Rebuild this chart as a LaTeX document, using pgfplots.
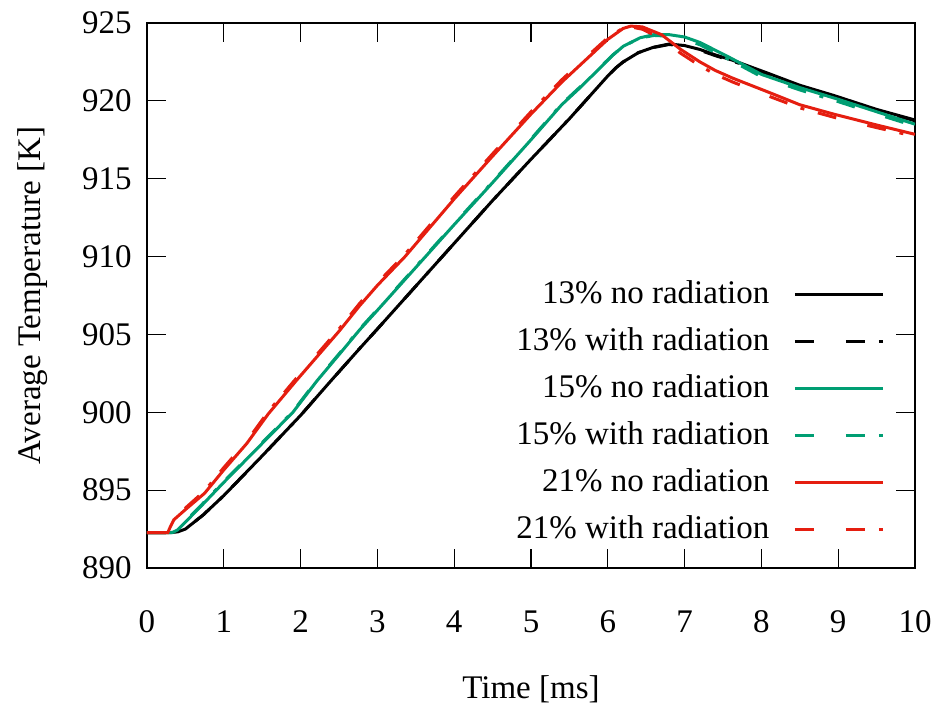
\documentclass[border=0pt]{standalone}
\usepackage{pgfplots}
\pgfplotsset{compat=1.18}
\usepackage{fontspec}
\setmainfont{Liberation Serif}
\definecolor{gpgreen}{HTML}{009E73}
\definecolor{gpred}{HTML}{E51E10}
\tikzset{gpdash/.style={dash pattern=on 9.5pt off 16pt on 9.5pt off 7pt on 2pt off 7pt}}
\begin{document}
\fontsize{16.5}{19}\selectfont
\begin{tikzpicture}
\useasboundingbox (-73.5pt,-68pt) rectangle (394.5pt,284pt);
\begin{axis}[
  at={(0pt,0pt)}, anchor=south west,
  scale only axis, width=384pt, height=272.5pt,
  xmin=0, xmax=10, ymin=890, ymax=925,
  xtick={0,1,...,10}, ytick={890,895,...,925},
  tick align=inside, major tick length=9.5pt,
  tick style={line width=0.6pt, black},
  axis line style={line width=1pt},
  /pgf/number format/assume math mode=true,
  xticklabel style={yshift=-15.5pt},
  yticklabel style={xshift=-2pt},
  xlabel={Time [ms]}, ylabel={Average Temperature [K]},
  xlabel style={yshift=-10.5pt},
  ylabel style={yshift=6pt},
  every axis plot/.append style={line width=1.5pt},
  legend plot pos=right,
  legend cell align=right,
  legend image code/.code={\path (0pt,0pt); \draw[#1] (10pt,0pt) -- (54pt,0pt);},
  legend style={draw=none, fill=none, at={(0.9684,0.029)}, anchor=south east,
    row sep=5.6pt, font=\fontsize{16.5}{19}\selectfont},
]
\addplot[black] coordinates {
(0,892.27)(0.3,892.27)(0.4,892.32)(0.5,892.5)(0.73,893.4)(1.0,894.65)(1.5,897.2)(2.0,899.8)
(2.4,902.05)(2.77,904.1)(3.0,905.35)(3.5,908.1)(4.0,910.85)(4.5,913.6)(5.0,916.25)(5.5,918.85)
(5.8,920.5)(6.0,921.6)(6.1,922.1)(6.2,922.5)(6.4,923.1)(6.6,923.45)(6.8,923.65)(7.0,923.55)
(7.2,923.3)(7.4,922.95)(7.63,922.6)(8.07,921.8)(8.5,921.0)(8.94,920.35)(9.5,919.45)(10.0,918.77)};
\addlegendentry{13\% no radiation}
\addplot[black, gpdash] coordinates {
(0,892.27)(0.3,892.27)(0.4,892.32)(0.5,892.5)(0.73,893.4)(1.0,894.65)(1.5,897.2)(2.0,899.8)
(2.4,902.05)(2.77,904.1)(3.0,905.35)(3.5,908.1)(4.0,910.85)(4.5,913.6)(5.0,916.25)(5.5,918.85)
(5.8,920.5)(6.0,921.6)(6.1,922.1)(6.2,922.5)(6.4,923.1)(6.6,923.43)(6.8,923.62)(7.0,923.5)
(7.2,923.25)(7.4,922.9)(7.63,922.55)(8.07,921.75)(8.5,920.95)(8.94,920.3)(9.5,919.4)(10.0,918.72)};
\addlegendentry{13\% with radiation}
\addplot[gpgreen] coordinates {
(0,892.27)(0.33,892.27)(0.4,892.45)(0.5,892.95)(0.7,893.95)(1.0,895.5)(1.5,898.0)(1.9,900.0)
(2.21,902.0)(2.5,903.7)(2.77,905.3)(3.0,906.55)(3.5,909.3)(4.0,912.05)(4.5,914.75)(5.0,917.5)
(5.4,919.75)(5.64,920.85)(6.07,922.95)(6.2,923.5)(6.42,924.05)(6.6,924.25)(6.8,924.25)(7.0,924.1)
(7.2,923.75)(7.4,923.25)(7.6,922.75)(8.0,921.7)(8.5,920.85)(9.0,920.1)(9.5,919.3)(10.0,918.5)};
\addlegendentry{15\% no radiation}
\addplot[gpgreen, gpdash] coordinates {
(0,892.27)(0.33,892.27)(0.4,892.47)(0.5,893.0)(0.7,894.0)(1.0,895.55)(1.5,898.05)(1.9,900.05)
(2.21,902.05)(2.5,903.75)(2.77,905.35)(3.0,906.6)(3.5,909.35)(4.0,912.1)(4.5,914.8)(5.0,917.55)
(5.4,919.8)(5.64,920.9)(6.07,922.97)(6.2,923.5)(6.42,924.03)(6.6,924.2)(6.8,924.15)(7.0,923.95)
(7.2,923.6)(7.4,923.1)(7.6,922.6)(8.0,921.55)(8.5,920.7)(9.0,919.95)(9.5,919.15)(10.0,918.38)};
\addlegendentry{15\% with radiation}
\addplot[gpred] coordinates {
(0,892.27)(0.27,892.27)(0.3,892.6)(0.35,893.1)(0.5,893.75)(0.75,894.8)(1.0,896.3)(1.3,898.0)
(1.58,899.9)(1.95,902.07)(2.5,905.2)(2.77,906.85)(3.0,908.15)(3.36,910.0)(4.0,913.7)(4.5,916.45)
(5.0,919.15)(5.4,921.2)(5.64,922.3)(6.0,923.95)(6.2,924.65)(6.3,924.8)(6.45,924.75)(6.7,924.25)
(6.95,923.3)(7.2,922.5)(7.4,921.95)(7.63,921.45)(8.07,920.6)(8.5,919.75)(8.94,919.15)(9.5,918.45)
(10.0,917.85)};
\addlegendentry{21\% no radiation}
\addplot[gpred, gpdash] coordinates {
(0,892.27)(0.27,892.27)(0.3,892.65)(0.35,893.15)(0.5,893.85)(0.75,894.95)(1.0,896.45)(1.3,898.15)
(1.58,900.05)(1.95,902.22)(2.5,905.35)(2.77,907.0)(3.0,908.3)(3.36,910.15)(4.0,913.85)(4.5,916.6)
(5.0,919.3)(5.4,921.35)(5.64,922.45)(6.0,924.05)(6.2,924.68)(6.3,924.75)(6.45,924.6)(6.7,924.0)
(6.95,923.05)(7.2,922.25)(7.4,921.7)(7.63,921.2)(8.07,920.35)(8.5,919.55)(8.94,918.95)(9.5,918.28)
(10.0,917.72)};
\addlegendentry{21\% with radiation}
\end{axis}
\end{tikzpicture}
\end{document}
